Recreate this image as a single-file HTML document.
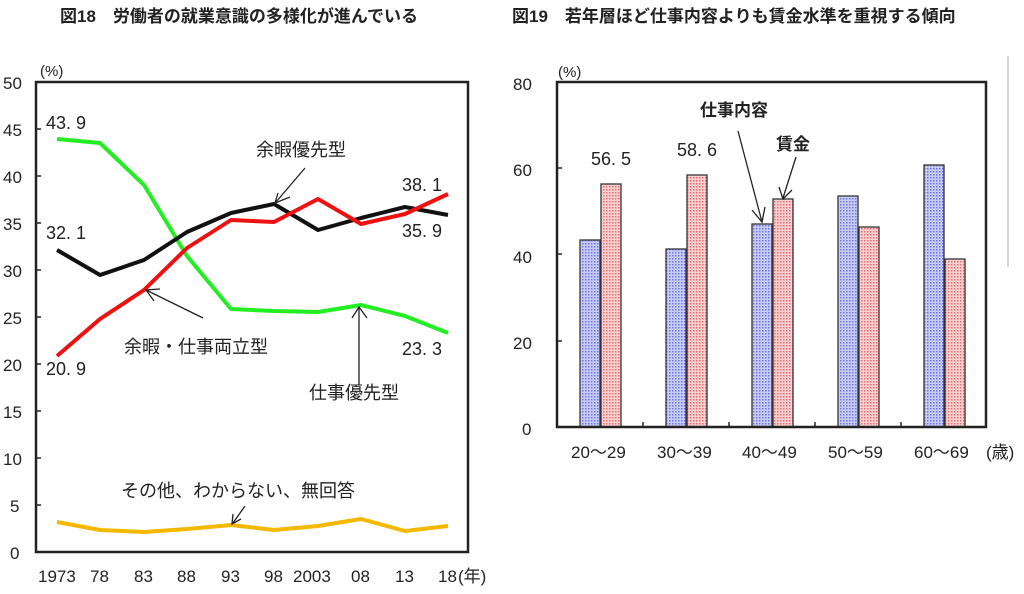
<!DOCTYPE html>
<html><head><meta charset="utf-8"><style>
body{margin:0;background:#fff;width:1024px;height:589px;overflow:hidden}
svg text{font-family:"Liberation Sans","Noto Sans CJK JP",sans-serif;fill:#222}
</style></head><body>
<svg width="1024" height="589" viewBox="0 0 1024 589" xmlns="http://www.w3.org/2000/svg">
<defs>
<pattern id="pb" width="3" height="3" patternUnits="userSpaceOnUse"><rect width="3" height="3" fill="#c8ccf4"/><rect width="1.5" height="1.5" fill="#6f74e0"/></pattern>
<pattern id="pr" width="3" height="3" patternUnits="userSpaceOnUse"><rect width="3" height="3" fill="#f8d0d0"/><rect width="1.5" height="1.5" fill="#e76f6f"/></pattern>
</defs>
<text x="60" y="22" font-size="17" font-weight="bold">図18　労働者の就業意識の多様化が進んでいる</text>
<text x="512" y="22" font-size="17" font-weight="bold">図19　若年層ほど仕事内容よりも賃金水準を重視する傾向</text>

<!-- left chart -->
<rect x="36" y="82" width="432" height="470" fill="none" stroke="#222" stroke-width="2.5"/>
<g stroke="#222" stroke-width="1.5">
<line x1="36" y1="129" x2="41" y2="129"/><line x1="36" y1="176" x2="41" y2="176"/><line x1="36" y1="223" x2="41" y2="223"/><line x1="36" y1="270" x2="41" y2="270"/><line x1="36" y1="317" x2="41" y2="317"/><line x1="36" y1="364" x2="41" y2="364"/><line x1="36" y1="411" x2="41" y2="411"/><line x1="36" y1="458" x2="41" y2="458"/><line x1="36" y1="505" x2="41" y2="505"/>
</g>
<g font-size="17">
<text x="3" y="89">50</text><text x="3" y="136">45</text><text x="3" y="183">40</text><text x="3" y="230">35</text><text x="3" y="277">30</text><text x="3" y="324">25</text><text x="3" y="371">20</text><text x="3" y="418">15</text><text x="3" y="465">10</text><text x="10" y="512">5</text><text x="10" y="559">0</text>
<text x="40" y="76" font-size="15">(%)</text>
<text x="38" y="582">1973</text><text x="90" y="582">78</text><text x="134" y="582">83</text><text x="177" y="582">88</text><text x="221" y="582">93</text><text x="264" y="582">98</text><text x="293" y="582">2003</text><text x="351" y="582">08</text><text x="395" y="582">13</text><text x="438" y="582">18</text><text x="458" y="582">(年)</text>
</g>
<g fill="none" stroke-width="4" stroke-linejoin="round">
<polyline stroke="#f5b800" points="57,522 100,530 144,532 187,529 231,525 274,530 318,526 361,519 405,531 448,526"/>
<polyline stroke="#22ee22" points="57,139 100,143 144,185 187,256 231,309 274,311 318,312 361,305 405,316 448,333"/>
<polyline stroke="#111" points="57,250 100,275 144,260 187,232 231,213 274,204 318,230 361,218 405,207 448,215"/>
<polyline stroke="#ee1111" points="57,356 100,319 144,290 187,248 231,220 274,222 318,199 361,224 405,214 448,194"/>
</g>
<g stroke="#222" stroke-width="1.3" fill="none">
<line x1="305" y1="168" x2="276" y2="202"/><polyline points="278,193 275,203 290,197"/>
<line x1="203" y1="318" x2="146" y2="290"/><polyline points="160,289 146,290 154,301"/>
<line x1="359" y1="385" x2="359" y2="307"/><polyline points="352,318 359,307 367,318"/>
<line x1="245" y1="506" x2="233" y2="523"/><polyline points="233,514 232,524 241,519"/>
</g>
<g font-size="18">
<text x="46" y="129">43. 9</text><text x="46" y="239">32. 1</text><text x="46" y="375">20. 9</text>
<text x="402" y="191">38. 1</text><text x="402" y="237">35. 9</text><text x="402" y="355">23. 3</text>
<text x="256" y="156">余暇優先型</text><text x="124" y="353">余暇・仕事両立型</text><text x="309" y="399">仕事優先型</text><text x="121" y="497">その他、わからない、無回答</text>
</g>

<!-- right chart -->
<g font-size="17">
<text x="513" y="90">80</text><text x="513" y="176">60</text><text x="513" y="263">40</text><text x="513" y="349">20</text><text x="522" y="435">0</text>
<text x="558" y="77" font-size="15">(%)</text>
<text x="571" y="458">20～29</text><text x="657" y="458">30～39</text><text x="742" y="458">40～49</text><text x="828" y="458">50～59</text><text x="914" y="458">60～69</text><text x="986" y="458">(歳)</text>
</g>
<g stroke="#333" stroke-width="1.3">
<rect x="580" y="240" width="20" height="187" fill="url(#pb)"/><rect x="601" y="184" width="20" height="243" fill="url(#pr)"/>
<rect x="666" y="249" width="20" height="178" fill="url(#pb)"/><rect x="687" y="175" width="20" height="252" fill="url(#pr)"/>
<rect x="752" y="224" width="20" height="203" fill="url(#pb)"/><rect x="773" y="199" width="20" height="228" fill="url(#pr)"/>
<rect x="838" y="196" width="20" height="231" fill="url(#pb)"/><rect x="859" y="227" width="20" height="200" fill="url(#pr)"/>
<rect x="924" y="165" width="20" height="262" fill="url(#pb)"/><rect x="945" y="259" width="20" height="168" fill="url(#pr)"/>
</g>
<rect x="557" y="82" width="429" height="345" fill="none" stroke="#222" stroke-width="2.5"/>
<g stroke="#222" stroke-width="1.5">
<line x1="557" y1="168" x2="562" y2="168"/><line x1="557" y1="254" x2="562" y2="254"/><line x1="557" y1="341" x2="562" y2="341"/>
<line x1="643" y1="427" x2="643" y2="422"/><line x1="729" y1="427" x2="729" y2="422"/><line x1="815" y1="427" x2="815" y2="422"/><line x1="901" y1="427" x2="901" y2="422"/>
</g>
<g stroke="#222" stroke-width="1.3" fill="none">
<line x1="738" y1="131" x2="762" y2="222"/><polyline points="752,210 762,222 765,207"/>
<line x1="796" y1="157" x2="783" y2="198"/><polyline points="779,187 783,199 792,190"/>
</g>
<g font-size="18">
<text x="591" y="165">56. 5</text><text x="677" y="156">58. 6</text>
<text x="700" y="116" font-weight="bold" font-size="17">仕事内容</text><text x="776" y="150" font-weight="bold" font-size="17">賃金</text>
</g>
<line x1="1008" y1="56" x2="1008" y2="267" stroke="#aaa" stroke-width="1"/>
</svg>
</body></html>
